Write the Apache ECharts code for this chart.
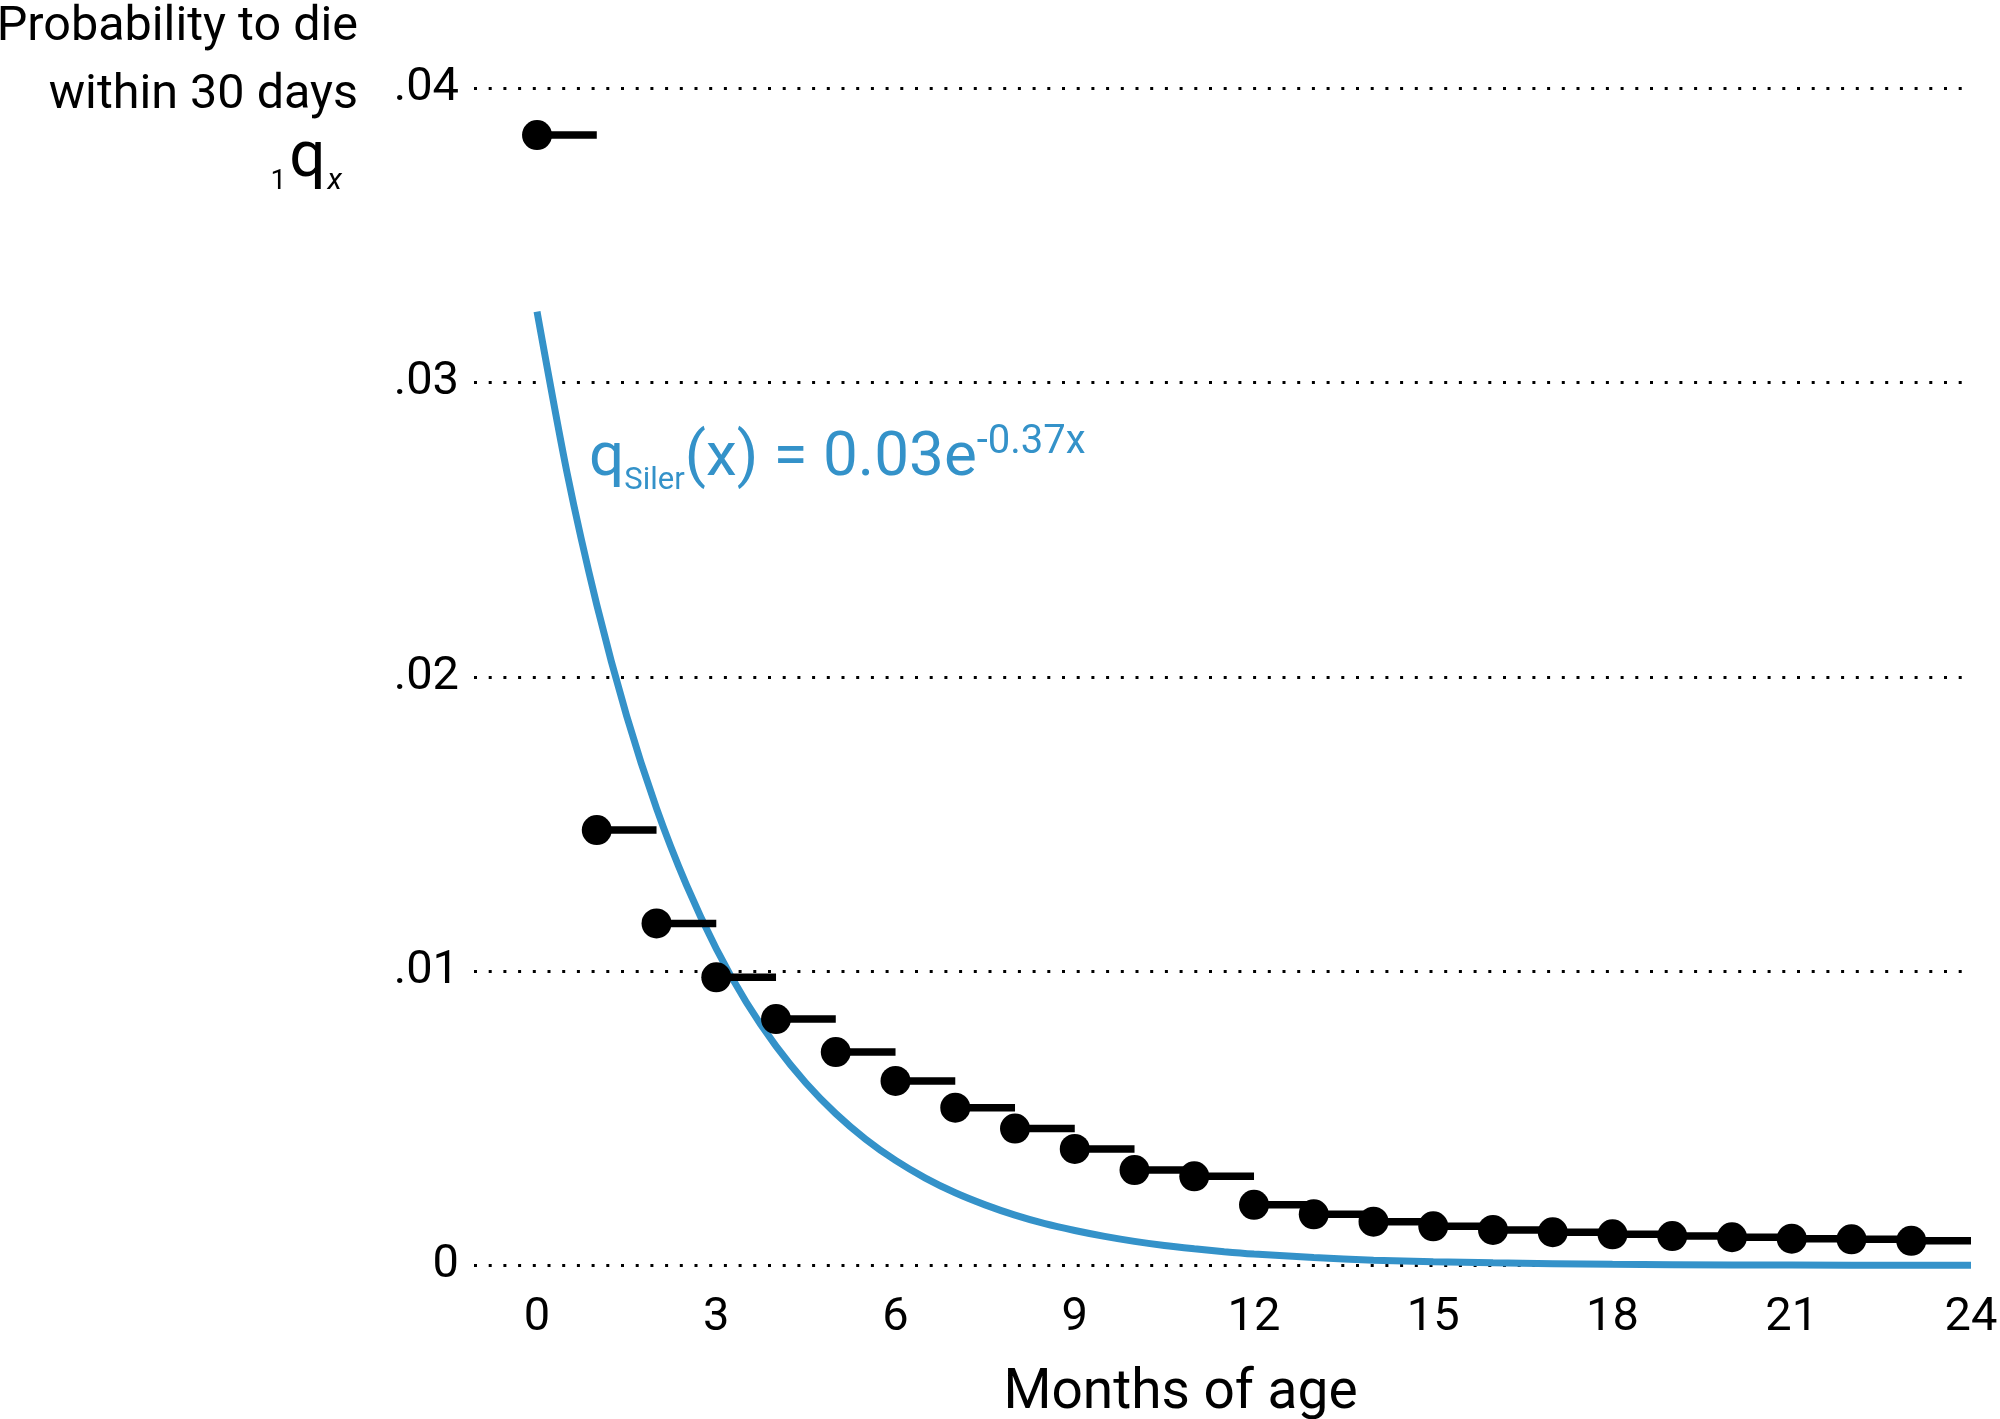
<!DOCTYPE html>
<html><head><meta charset="utf-8">
<script src="https://cdn.jsdelivr.net/npm/echarts@6/dist/echarts.min.js"></script>
<style>html,body{margin:0;padding:0;background:#fff}#c{width:2000px;height:1419px}</style>
</head><body><div id="c"></div>
<script>
// ---- data ----
const months = [0,1,2,3,4,5,6,7,8,9,10,11,12,13,14,15,16,17,18,19,20,21,22,23];
const qx = [0.0384, 0.01479, 0.01162, 0.00979, 0.00837, 0.00725, 0.00627, 0.00536,
            0.00465, 0.00396, 0.00324, 0.00303, 0.00206, 0.00174, 0.00149, 0.00133,
            0.00121, 0.00113, 0.00106, 0.00100, 0.00096, 0.00091, 0.00089, 0.00084];
const silerX = [0, 0.5, 1, 1.5, 2, 2.5, 3, 3.5, 4, 4.5, 5, 5.5, 6, 6.5, 7, 7.5, 8, 8.5, 9, 9.5, 10,
                10.5, 11, 11.5, 12, 13, 14, 15, 16, 18, 20, 22, 24];
const silerY = [0.0324, 0.02695, 0.02244, 0.01867, 0.01553, 0.01293, 0.01076, 0.00895, 0.00745, 0.00620,
                0.00516, 0.00429, 0.00357, 0.00297, 0.00247, 0.00206, 0.00171, 0.00142, 0.00119, 0.00099,
                0.00082, 0.00068, 0.00057, 0.00047, 0.00039, 0.00027, 0.00018, 0.00013, 0.00009,
                0.00004, 0.00002, 0.00001, 0.000005];
const xTickValues = [0,3,6,9,12,15,18,21,24];
const yTickLabels = {0:'0', 0.01:'.01', 0.02:'.02', 0.03:'.03', 0.04:'.04'};

const BLUE = '#3492c9';
const FONT = 'Roboto';

const chart = echarts.init(document.getElementById('c'), null, {renderer:'canvas'});

const ctx = document.createElement('canvas').getContext('2d');
function measure(str, size, style) {
  ctx.font = (style||'normal') + ' ' + size + 'px ' + FONT;
  return ctx.measureText(str).width;
}
// text positioned by alphabetic baseline (approx.)
function txt(x, base, str, size, color, align, style) {
  return {
    type:'text', x:x, y: base - 0.30*size, z:10,
    style:{text:str, fontFamily:FONT, fontSize:size, fill:color, align:align||'left',
           verticalAlign:'middle', fontStyle:style||'normal'}
  };
}

const graphics = [];
// y-axis title
graphics.push(txt(358, 42, 'Probability to die', 48.5, '#000', 'right'));
graphics.push(txt(358, 110, 'within 30 days', 48.5, '#000', 'right'));
{
  const xR = 342;
  const wx = measure('x', 30, 'italic');
  const wq = measure('q', 64);
  graphics.push(txt(xR, 190, 'x', 30, '#000', 'right', 'italic'));
  graphics.push(txt(xR - wx - 2, 179, 'q', 64, '#000', 'right'));
  graphics.push(txt(xR - wx - 2 - wq - 3, 190, '1', 28, '#000', 'right'));
}
// formula label
{
  let x = 589;
  const mainB = 478, subB = 491, supB = 455;
  const F = 62, S = 31, P = 40;
  graphics.push(txt(x, mainB, 'q', F, BLUE)); x += measure('q', F);
  graphics.push(txt(x, subB, 'Siler', S, BLUE)); x += measure('Siler', S);
  const main2 = '(x) = 0.03e';
  graphics.push(txt(x, mainB, main2, F, BLUE)); x += measure(main2, F);
  graphics.push(txt(x, supB, '-0.37x', P, BLUE));
}

const option = {
  animation:false,
  backgroundColor:'#fff',
  textStyle:{fontFamily:FONT},
  grid:{left:474, right:29, top:88, bottom:153.5, containLabel:false, outerBoundsMode:'none'},
  xAxis:{
    type:'value', min:-1.055, max:24,
    axisLine:{show:false}, axisTick:{show:false}, splitLine:{show:false},
    axisLabel:{customValues:xTickValues, fontSize:47, color:'#000', margin:29, fontFamily:FONT},
    name:'Months of age', nameLocation:'middle', nameGap:101,
    nameTextStyle:{fontSize:55, color:'#000', fontFamily:FONT, padding:[0,84,0,0]}
  },
  yAxis:{
    type:'value', min:0, max:0.04, interval:0.01,
    axisLine:{show:false}, axisTick:{show:false},
    axisLabel:{fontSize:47, color:'#000', margin:15, fontFamily:FONT,
               formatter:v => yTickLabels[Math.round(v*100)/100]},
    splitLine:{show:true, lineStyle:{color:'#000', width:3, type:[3,11.7], cap:'butt'}}
  },
  series:[
    {
      type:'line', name:'Siler', data: silerX.map((x,i)=>[x, silerY[i]]),
      smooth:0.25, showSymbol:false, z:2,
      lineStyle:{color:BLUE, width:7}
    },
    {
      type:'custom', name:'interval', z:3,
      data: months.map((m,i)=>[m, qx[i]]),
      renderItem:(params, api)=>{
        const m = api.value(0), v = api.value(1);
        const p1 = api.coord([m, v]), p2 = api.coord([m+1, v]);
        return {type:'line', shape:{x1:p1[0], y1:p1[1], x2:p2[0], y2:p2[1]},
                style:{stroke:'#000', lineWidth:7.5, lineCap:'butt'}};
      }
    },
    {
      type:'scatter', name:'qx', z:4,
      data: months.map((m,i)=>[m, qx[i]]),
      symbol:'circle', symbolSize:30, itemStyle:{color:'#000', opacity:1}
    }
  ],
  graphic: graphics
};
chart.setOption(option);
</script></body></html>
